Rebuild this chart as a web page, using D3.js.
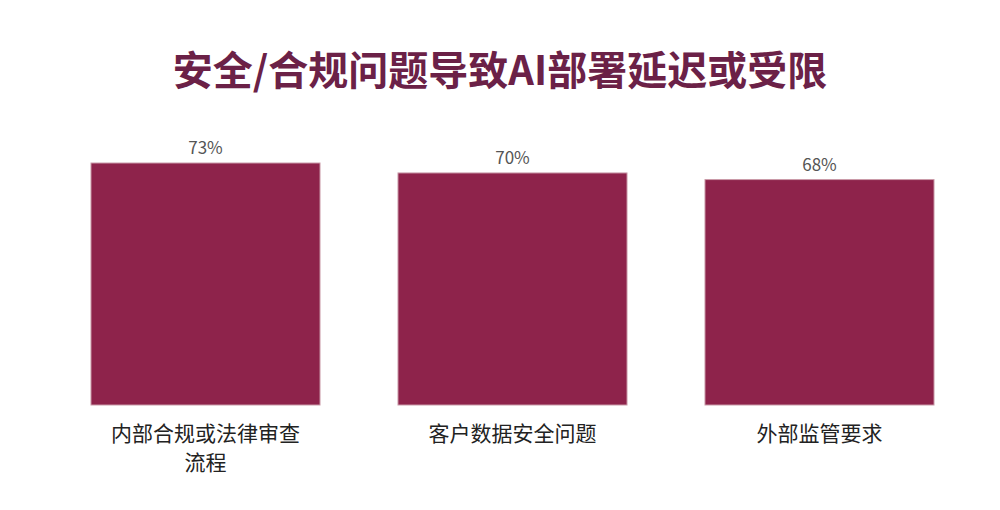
<!DOCTYPE html>
<html lang="zh">
<head>
<meta charset="UTF-8">
<title>安全/合规问题导致AI部署延迟或受限</title>
<script src="https://cdn.jsdelivr.net/npm/d3@7/dist/d3.min.js"></script>
<style>
html, body { margin: 0; padding: 0; background: #fff; }
#chart { width: 1000px; height: 510px; }
svg { font-family: "Noto Sans CJK SC", "Noto Sans", sans-serif; }
</style>
</head>
<body>
<div id="chart"></div>
<script>
// data
var categories = ["内部合规或法律审查流程", "客户数据安全问题", "外部监管要求"];
var values = [73, 70, 68];
var labelLines = [["内部合规或法律审查", "流程"], ["客户数据安全问题"], ["外部监管要求"]];

var width = 1000, height = 510;
var svg = d3.select("#chart").append("svg")
	.attr("width", width)
	.attr("height", height);

// title
svg.append("text")
	.attr("x", 500)
	.attr("y", 85)
	.attr("text-anchor", "middle")
	.attr("font-size", "40px")
	.attr("font-weight", "bold")
	.attr("fill", "#6b2147")
	.text("安全/合规问题导致AI部署延迟或受限");

var x = d3.scaleBand()
	.domain(categories)
	.range([52, 973])
	.paddingInner(0.254)
	.paddingOuter(0.127);

var y = d3.scaleLinear()
	.domain([0, 100])
	.range([405, 73.5]);

svg.selectAll(".bar")
	.data(values)
	.enter().append("rect")
	.attr("class", "bar")
	.attr("x", function(d, i) { return x(categories[i]); })
	.attr("y", function(d) { return y(d); })
	.attr("width", x.bandwidth())
	.attr("height", function(d) { return y(0) - y(d); })
	.attr("fill", "#8e234b")
	.attr("stroke", "#c99aa8")
	.attr("stroke-width", 1);

// value labels
svg.selectAll(".val")
	.data(values)
	.enter().append("text")
	.attr("class", "val")
	.attr("x", function(d, i) { return x(categories[i]) + x.bandwidth() / 2; })
	.attr("y", function(d) { return y(d) - 9; })
	.attr("text-anchor", "middle")
	.attr("font-size", "17px")
	.attr("fill", "#555")
	.text(function(d) { return d + "%"; });

// category labels
var cat = svg.selectAll(".cat")
	.data(categories)
	.enter().append("text")
	.attr("class", "cat")
	.attr("text-anchor", "middle")
	.attr("font-size", "21px")
	.attr("fill", "#222")
	.attr("transform", function(d) { return "translate(" + (x(d) + x.bandwidth() / 2) + ",441)"; });

cat.selectAll("tspan")
	.data(function(d, i) { return labelLines[i]; })
	.enter().append("tspan")
	.attr("x", 0)
	.attr("dy", function(d, i) { return i === 0 ? 0 : 29; })
	.text(function(d) { return d; });
</script>
</body>
</html>
